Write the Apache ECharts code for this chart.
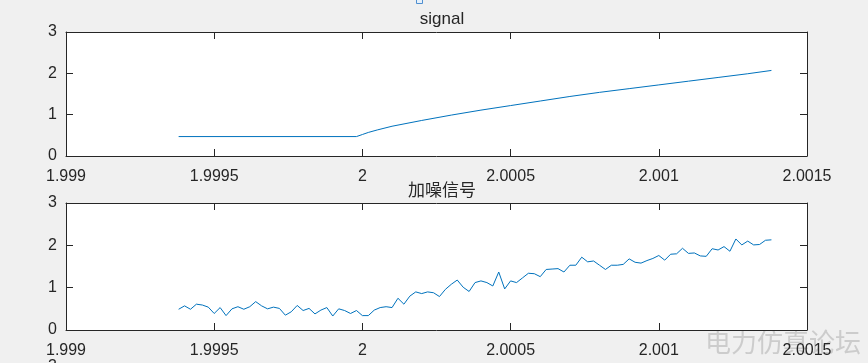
<!DOCTYPE html>
<html>
<head>
<meta charset="utf-8">
<script src="https://cdn.jsdelivr.net/npm/echarts@6/dist/echarts.min.js"></script>
<style>
html,body{margin:0;padding:0;background:#f0f0f0;}
#c{width:868px;height:363px;}
</style>
</head>
<body>
<div id="c"></div>
<script>
// ---- data ----
var topTitle = 'signal';
var bottomTitle = '加噪信号';
var xTickLabels = ['1.999', '1.9995', '2', '2.0005', '2.001', '2.0015'];
var yTickLabels = ['0', '1', '2', '3'];

// clean signal: [time, value]
var signalT = [1.99938, 1.99998, 2.0, 2.00002, 2.00005, 2.0001, 2.0002, 2.0003, 2.0004, 2.0005,
               2.0006, 2.0007, 2.0008, 2.0009, 2.001, 2.0011, 2.0012, 2.0013, 2.00138];
var signalV = [0.47, 0.47, 0.52, 0.57, 0.63, 0.72, 0.86, 0.99, 1.11, 1.22,
               1.33, 1.44, 1.54, 1.63, 1.72, 1.81, 1.90, 1.99, 2.07];

// noisy signal, sampled every 0.00002 starting at 1.99938
var noisyStart = 1.99938;
var noisyStep = 0.00002;
var noisyV = [
  0.49,0.57,0.49,0.61,0.59,0.54,0.39,0.53,0.34,0.50,0.55,0.49,0.55,0.67,0.57,0.50,0.54,0.51,0.35,0.43,0.58,
  0.46,0.51,0.38,0.47,0.53,0.33,0.50,0.46,0.39,0.46,0.34,0.34,0.47,0.53,
  0.55,0.53,0.75,0.61,0.80,0.90,0.86,0.90,0.88,0.79,0.96,1.08,1.18,1.01,0.91,1.12,1.16,1.12,1.04,1.37,0.97,1.16,1.12,1.23,1.34,1.33,1.26,1.43,1.44,1.45,1.37,1.53,1.53,1.72,
  1.61,1.63,1.53,1.43,1.53,1.53,1.55,1.68,1.60,1.58,1.64,1.69,1.76,1.65,1.79,1.80,1.93,1.81,1.82,1.75,1.74,1.92,1.89,1.97,1.86,2.15,2.01,2.10,2.01,2.02,2.12,2.13
];

// ---- build ----
var signalData = signalT.map(function (t, i) { return [t, signalV[i]]; });
var noisyData = noisyV.map(function (v, i) { return [+(noisyStart + i * noisyStep).toFixed(5), v]; });

var AX = '#262626';
var FONT = 'Arial, "Liberation Sans", sans-serif';
var LINE = '#0072BD';

function fmtX(v) {
  var s = (+v.toFixed(4)).toString();
  var idx = xTickLabels.indexOf(s);
  return idx >= 0 ? xTickLabels[idx] : s;
}
function fmtY(v) {
  var s = (+v.toFixed(2)).toString();
  var idx = yTickLabels.indexOf(s);
  return idx >= 0 ? yTickLabels[idx] : s;
}

function xAx(gi, pos, showLabel) {
  return {
    type: 'value', gridIndex: gi, position: pos,
    min: 1.999, max: 2.0015, interval: 0.0005,
    axisLine: { show: true, onZero: false, lineStyle: { color: AX, width: 1 } },
    axisTick: { show: true, inside: true, length: 7, lineStyle: { color: AX } },
    axisLabel: { show: showLabel, formatter: fmtX, color: AX, fontSize: 16, fontFamily: FONT, margin: 13 },
    splitLine: { show: false }
  };
}
function yAx(gi, pos, showLabel) {
  return {
    type: 'value', gridIndex: gi, position: pos,
    min: 0, max: 3, interval: 1,
    axisLine: { show: true, onZero: false, lineStyle: { color: AX, width: 1 } },
    axisTick: { show: true, inside: true, length: 7, lineStyle: { color: AX } },
    axisLabel: { show: showLabel, formatter: fmtY, color: AX, fontSize: 16, fontFamily: FONT, margin: 9 },
    splitLine: { show: false }
  };
}

var chart = echarts.init(document.getElementById('c'), null, { renderer: 'canvas' });
chart.setOption({
  backgroundColor: '#f0f0f0',
  animation: false,
  title: [
    { text: topTitle, left: 437, top: 6, textAlign: 'center',
      textStyle: { fontSize: 17, fontWeight: 'normal', color: AX, fontFamily: FONT } },
    { text: bottomTitle, left: 437, top: 176, textAlign: 'center',
      textStyle: { fontSize: 17, fontWeight: 'normal', color: AX, fontFamily: '"Noto Sans CJK SC", sans-serif' } }
  ],
  grid: [
    { left: 66, top: 32, width: 741, height: 124, show: true, backgroundColor: '#ffffff', borderColor: AX, borderWidth: 0 },
    { left: 66, top: 203, width: 741, height: 127, show: true, backgroundColor: '#ffffff', borderColor: AX, borderWidth: 0 }
  ],
  xAxis: [xAx(0, 'bottom', true), xAx(0, 'top', false), xAx(1, 'bottom', true), xAx(1, 'top', false)],
  yAxis: [yAx(0, 'left', true), yAx(0, 'right', false), yAx(1, 'left', true), yAx(1, 'right', false)],
  series: [
    { type: 'line', xAxisIndex: 0, yAxisIndex: 0, data: signalData, showSymbol: false, symbol: 'none',
      lineStyle: { color: LINE, width: 1 }, z: 3 },
    { type: 'line', xAxisIndex: 2, yAxisIndex: 2, data: noisyData, showSymbol: false, symbol: 'none',
      lineStyle: { color: LINE, width: 1 }, z: 3 }
  ],
  graphic: [
    { type: 'text', left: 705, top: 329, z: -1,
      style: { text: '电力仿真论坛', fill: '#cccccc', font: '26px "Noto Sans CJK SC", sans-serif' } },
    { type: 'text', right: 811, top: 359,
      style: { text: '3', fill: AX, font: '16px Arial, "Liberation Sans", sans-serif' } },
    { type: 'rect', shape: { x: 416.5, y: -2.5, width: 6, height: 6 },
      style: { fill: '#e6f0fa', stroke: '#4f8fd0', lineWidth: 1 } }
  ]
});
</script>
</body>
</html>
